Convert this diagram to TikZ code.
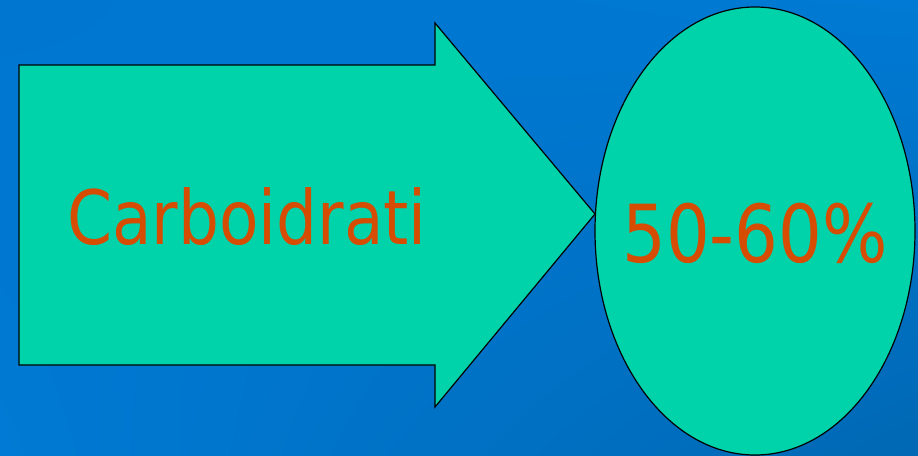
\documentclass[tikz,border=0pt]{standalone}
\usepackage{fontspec}
\usepackage{xcolor}
\usepackage{tikz}
\usetikzlibrary{shapes.geometric, shadings}
\newfontfamily\slidefont[FakeStretch=0.86]{DejaVu Sans}
\definecolor{bgtop}   {RGB}{0,  118, 208}
\definecolor{bgmid}   {RGB}{0,  122, 212}
\definecolor{bgbot}   {RGB}{0,  104, 180}
\definecolor{shapebg} {RGB}{0,  211, 170}
\definecolor{labeltxt}{RGB}{214, 76,   0}

\begin{document}
\begin{tikzpicture}[x=1pt, y=-1pt,
    shapeline/.style={draw=black, line width=1.2pt, fill=shapebg},
    bigtext/.style={text=labeltxt, font=\slidefont}]
  % background
  \shade[upper left=bgtop, upper right=bgmid, lower left=bgmid, lower right=bgbot]
       (0,0) rectangle (918,455);
  \useasboundingbox (0,0) rectangle (918,455);
  % arrow
  \coordinate (tip) at (595,214);
  \draw[shapeline] (19,65) -- (435,65) -- (435,23) -- (tip)
       -- (435,407) -- (435,365) -- (19,365) -- cycle;
  \node[bigtext, font=\slidefont\fontsize{75}{80}\selectfont, anchor=base]
       (carbo) at (247,244) {Carboidrati};
  % ellipse
  \node[shapeline, ellipse, minimum width=320pt, minimum height=448pt, inner sep=0pt]
       (oval) at (755,231) {};
  \node[bigtext, font=\slidefont\fontsize{80}{86}\selectfont, anchor=base]
       (perc) at (755,262) {50-60\%};
\end{tikzpicture}
\end{document}
